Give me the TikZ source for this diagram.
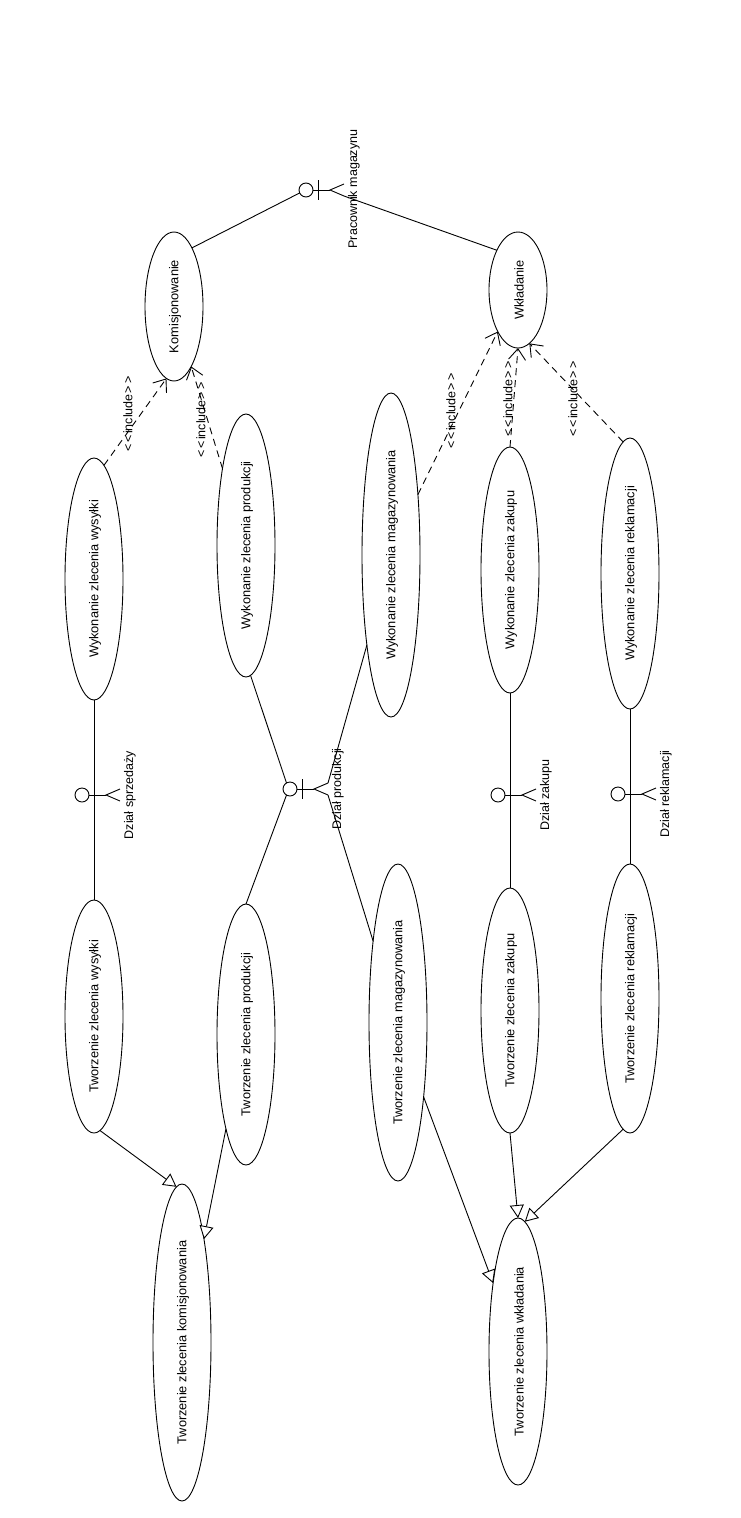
\documentclass[tikz,border=0pt]{standalone}
\usepackage{fontspec}
\usepackage{graphicx}
\setmainfont{Liberation Sans}
\usetikzlibrary{shapes.geometric,arrows.meta}
\tikzset{
  usecase/.style={draw,ellipse,inner sep=0pt,outer sep=0pt,line width=0.9pt},
  actorhead/.style={draw,circle,inner sep=0pt,outer sep=0pt,minimum size=14pt,line width=0.9pt},
  assoc/.style={line width=0.9pt},
  includeedge/.style={line width=0.9pt,dash pattern=on 7pt off 5pt,-{Straight Barb[length=11pt,width=17pt,line width=0.9pt]}},
  genedge/.style={line width=0.9pt,-{Triangle[open,length=13pt,width=14pt,line width=0.9pt,fill=white]}},
  lab/.style={inner sep=0pt,outer sep=0pt,font=\fontsize{12.5}{14}\selectfont},
}
\newcommand{\ucase}[6]{\node[usecase,minimum width=#4pt,minimum height=#5pt,font=\fontsize{12.8}{14}\selectfont] (#1) at (#2,#3) {\hspace*{2pt}\rotatebox{90}{#6}};}
% name, head x, y: body runs to +12 (arms), +24 (fork), +37 (leg ends)
\newcommand{\actorfig}[3]{%
  \node[actorhead] (#1) at (#2,#3) {};
  \coordinate (#1-arm) at ([xshift=12pt]#1.center);
  \coordinate (#1-fork) at ([xshift=24pt]#1.center);
  \coordinate (#1-upleg) at ([xshift=38pt,yshift=6pt]#1.center);
  \coordinate (#1-loleg) at ([xshift=38pt,yshift=-6pt]#1.center);
  \draw[assoc] (#1.east) -- (#1-fork);
  \draw[assoc] ([yshift=10pt]#1-arm) -- ([yshift=-10pt]#1-arm);
  \draw[assoc] (#1-upleg) -- (#1-fork) -- (#1-loleg);
}
\newcommand{\inc}[3]{\node[lab,rotate=90] (#1) at (#2,#3) {<\kern2.5pt<\kern1pt include\kern1pt>\kern2.5pt>};}
\begin{document}
\begin{tikzpicture}[x=1pt,y=-1pt]
\useasboundingbox (0,0) rectangle (740,1518);
\fill[white] (0,0) rectangle (740,1518);
\ucase{kom}{174}{306.5}{58}{149}{Komisjonowanie}
\ucase{wkl}{518}{290}{58}{116}{Wkładanie}
\ucase{wws}{94}{579}{58}{242}{Wykonanie zlecenia wysyłki}
\ucase{wpr}{246}{545.5}{58}{263}{Wykonanie zlecenia produkcji}
\ucase{wmg}{391}{555}{58}{324}{Wykonanie zlecenia magazynowania}
\ucase{wzk}{510}{570}{58}{246}{Wykonanie zlecenia zakupu}
\ucase{wrk}{630}{573.5}{58}{271}{Wykonanie zlecenia reklamacji}
\ucase{tws}{94}{1016.5}{58}{233}{Tworzenie zlecenia wysyłki}
\ucase{tpr}{246}{1034.5}{58}{261}{Tworzenie zlecenia produkcji}
\ucase{tmg}{398}{1022.5}{58}{317}{Tworzenie zlecenia magazynowania}
\ucase{tzk}{510}{1010.5}{58}{245}{Tworzenie zlecenia zakupu}
\ucase{trk}{630}{998.5}{58}{269}{Tworzenie zlecenia reklamacji}
\ucase{tkm}{182}{1342.5}{58}{317}{Tworzenie zlecenia komisjonowania}
\ucase{twk}{518}{1351.5}{58}{267}{Tworzenie zlecenia wkładania}

\actorfig{apm}{306}{190}
\actorfig{asp}{82}{795}
\actorfig{apr}{290}{789}
\actorfig{azk}{498}{795}
\actorfig{ark}{618}{794}

\node[lab,rotate=90] (lpm) at (354,189) {Pracownik magazynu};
\node[lab,rotate=90] (lsp) at (130,795) {Dział sprzedaży};
\node[lab,rotate=90] (lpr) at (338,789) {Dział produkcji};
\node[lab,rotate=90] (lzk) at (546,795) {Dział zakupu};
\node[lab,rotate=90] (lrk) at (666,794) {Dział reklamacji};

% associations
\draw[assoc] (apm.205) -- (kom.73.6);
\draw[assoc] (apm-loleg) -- (wkl.118);
\draw[assoc] (wws.270) -- (tws.90);
\draw[assoc] (apr.120) -- (wpr.272.6);
\draw[assoc] (apr.240) -- (tpr.90);
\draw[assoc] (apr-upleg) -- (wmg.255);
\draw[assoc] (apr-loleg) -- (tmg.107.4);
\draw[assoc] (wzk.270) -- (tzk.90);
\draw[assoc] (wrk.270) -- (trk.90);

% includes
\draw[includeedge] (wws.85) -- (kom.264.7);
\draw[includeedge] (wpr.107.3) -- (kom.286.4);
\draw[includeedge] (wmg.66.6) -- (wkl.244);
\draw[includeedge] (wzk.90) -- (wkl.270);
\draw[includeedge] (wrk.93) -- (wkl.282.3);
\inc{i1}{128}{414}
\inc{i2}{201}{420}
\inc{i3}{451}{411}
\inc{i4}{508}{399}
\inc{i5}{573}{399}

% generalisations
\draw[genedge] (tws.273) -- (tkm.92.2);
\draw[genedge] (tpr.258.2) -- (tkm.78.4);
\draw[genedge] (tmg.289.5) -- (twk.110);
\draw[genedge] (tzk.270) -- (twk.90);
\draw[genedge] (trk.267) -- (twk.87.4);
\end{tikzpicture}
\end{document}
